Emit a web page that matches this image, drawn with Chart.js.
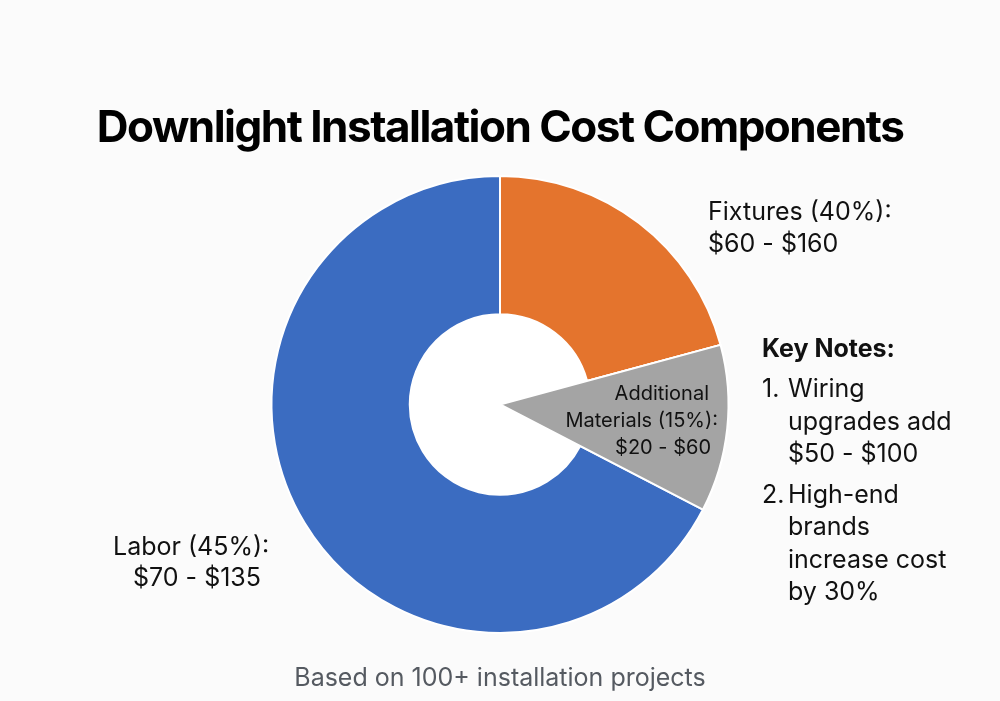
<!DOCTYPE html>
<html><head><meta charset="utf-8">
<script src="https://cdn.jsdelivr.net/npm/chart.js@4.4.0/dist/chart.umd.min.js"></script>
<style>html,body{margin:0;padding:0;background:#fbfbfb;}#wrap{width:1000px;height:701px;position:relative;}</style>
</head><body><div id="wrap"><canvas id="c" width="1000" height="701"></canvas></div>
<script>
// ---- data ----
const categories = ['Fixtures', 'Additional Materials', 'Labor'];
const shareValues = [20.8, 11.8, 67.4];           // visual share of the ring
const sliceColors = ['#e4742d', '#a4a4a4', '#3b6cc1'];
const titleText = 'Downlight Installation Cost Components';
const footText = 'Based on 100+ installation projects';
const fixturesLabel = ['Fixtures (40%):', '$60 - $160'];
const materialsLabel = ['Additional', 'Materials (15%):', '$20 - $60'];
const laborLabel = ['Labor (45%):', '$70 - $135'];
const notesTitle = 'Key Notes:';
const notes = [['1.', ['Wiring', 'upgrades add', '$50 - $100']], ['2.', ['High-end', 'brands', 'increase cost', 'by 30%']]];

const FONT = 'Inter, "Noto Sans", sans-serif';

const holePlugin = {
  id: 'hole',
  beforeDatasetsDraw(chart) {
    const el = chart.getDatasetMeta(0).data[0];
    const ctx = chart.ctx;
    ctx.save();
    ctx.fillStyle = '#ffffff';
    ctx.beginPath();
    ctx.arc(el.x, el.y, el.innerRadius, 0, Math.PI * 2);
    ctx.fill();
    ctx.restore();
  },
  afterDatasetsDraw(chart) {
    const el = chart.getDatasetMeta(0).data[1];
    const ir = el.innerRadius;
    el.innerRadius = 0;
    el.draw(chart.ctx);
    el.innerRadius = ir;
  }
};

const textPlugin = {
  id: 'texts',
  afterDraw(chart) {
    const ctx = chart.ctx;
    ctx.save();
    ctx.textBaseline = 'alphabetic';
    // title
    ctx.fillStyle = '#000000';
    ctx.font = 'bold 44px ' + FONT;
    ctx.letterSpacing = '-1.5px';
    ctx.textAlign = 'center';
    ctx.fillText(titleText, 500, 142);
    ctx.letterSpacing = '0px';
    // fixtures
    ctx.textAlign = 'left';
    ctx.font = '25px ' + FONT;
    ctx.fillStyle = '#111111';
    ctx.fillText(fixturesLabel[0], 708, 220);
    ctx.fillText(fixturesLabel[1], 708, 252);
    // labor
    ctx.fillText(laborLabel[0], 113, 555);
    ctx.fillText(laborLabel[1], 133, 586);
    // materials
    ctx.font = '20px ' + FONT;
    ctx.textAlign = 'right';
    ctx.fillText(materialsLabel[0], 709, 400);
    ctx.fillText(materialsLabel[1], 718, 427);
    ctx.fillText(materialsLabel[2], 711, 454);
    // notes
    ctx.textAlign = 'left';
    ctx.font = 'bold 25px ' + FONT;
    ctx.fillText(notesTitle, 762, 357);
    ctx.font = '25px ' + FONT;
    let y = 397;
    notes.forEach((n) => {
      ctx.fillText(n[0], 762, y);
      n[1].forEach((line) => {
        ctx.fillText(line, 788, y);
        y += 32.5;
      });
      y += 8;
    });
    // footer
    ctx.textAlign = 'center';
    ctx.font = '25px ' + FONT;
    ctx.fillStyle = '#555a61';
    ctx.fillText(footText, 500, 686);
    ctx.restore();
  }
};

new Chart(document.getElementById('c'), {
  type: 'doughnut',
  data: {
    labels: categories,
    datasets: [{
      data: shareValues,
      backgroundColor: sliceColors,
      borderColor: '#ffffff',
      borderWidth: 2
    }]
  },
  options: {
    responsive: false,
    animation: false,
    cutout: '39.5%',
    layout: { padding: { top: 175, bottom: 67, left: 200, right: 200 } },
    plugins: { legend: { display: false }, tooltip: { enabled: false }, title: { display: false } }
  },
  plugins: [holePlugin, textPlugin]
});
</script></body></html>
